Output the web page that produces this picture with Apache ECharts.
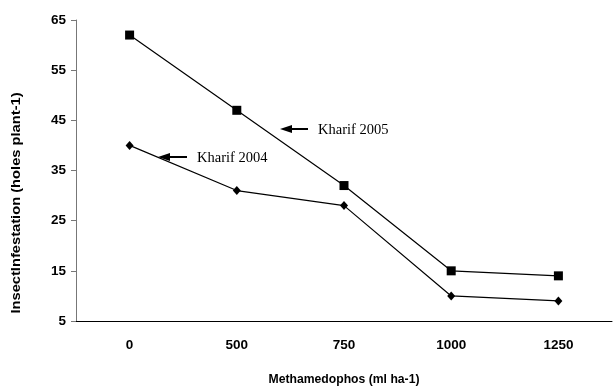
<!DOCTYPE html>
<html>
<head>
<meta charset="utf-8">
<script src="https://cdn.jsdelivr.net/npm/echarts@6/dist/echarts.min.js"></script>
<style>
  html, body { margin: 0; padding: 0; background: #fff; }
  #main { width: 613px; height: 391px; }
</style>
</head>
<body>
<div id="main"></div>
<script>
// doses on the x axis
var doses = ['0', '500', '750', '1000', '1250'];
// insect infestation, holes per plant
var kharif2005 = [62, 47, 32, 15, 14];
var kharif2004 = [40, 31, 28, 10, 9];
var yTicks = [5, 65, 10]; // min, max, step

var chart = echarts.init(document.getElementById('main'));

var boldFont = {
    fontFamily: 'Liberation Sans, Arial, sans-serif',
    fontWeight: 'bold',
    color: '#000'
};
var serifFont = '14.5px "Liberation Serif", "Times New Roman", serif';

var option = {
    animation: false,
    grid: { left: 76, right: 1, top: 20, bottom: 67 },
    xAxis: {
        type: 'category',
        data: doses,
        boundaryGap: true,
        axisLine: { lineStyle: { color: '#000', width: 1 } },
        axisTick: { inside: true, length: 5, lineStyle: { color: '#000' } },
        axisLabel: Object.assign({ fontSize: 13.5, margin: 17 }, boldFont),
        name: 'Methamedophos (ml ha-1)',
        nameLocation: 'middle',
        nameGap: 53,
        nameTextStyle: Object.assign({ fontSize: 12.2 }, boldFont)
    },
    yAxis: {
        type: 'value',
        min: yTicks[0],
        max: yTicks[1],
        interval: yTicks[2],
        splitLine: { show: false },
        axisLine: { show: true, lineStyle: { color: '#777', width: 1 } },
        axisTick: { show: true, length: 5, lineStyle: { color: '#777' } },
        axisLabel: Object.assign({ fontSize: 13.5, margin: 10 }, boldFont)
    },
    series: [
        {
            name: 'Kharif 2005',
            type: 'line',
            data: kharif2005,
            symbol: 'rect',
            symbolSize: 9,
            itemStyle: { color: '#000' },
            lineStyle: { color: '#000', width: 1.2 }
        },
        {
            name: 'Kharif 2004',
            type: 'line',
            data: kharif2004,
            symbol: 'diamond',
            symbolSize: [8, 9],
            itemStyle: { color: '#000' },
            lineStyle: { color: '#000', width: 1.2 }
        }
    ],
    graphic: [
        // y axis title, a little stretched along its length as in the original
        {
            type: 'text', x: 16, y: 203, rotation: Math.PI / 2, scaleX: 1.13,
            style: {
                text: 'InsectInfestation (holes plant-1)',
                font: 'bold 13px "Liberation Sans", Arial, sans-serif',
                fill: '#000', align: 'center', verticalAlign: 'middle'
            }
        },
        // labels with arrows
        { type: 'line', shape: { x1: 308, y1: 129, x2: 288, y2: 129 }, style: { stroke: '#000', lineWidth: 2 } },
        { type: 'polygon', shape: { points: [[280, 129], [292, 125], [292, 133]] }, style: { fill: '#000' } },
        { type: 'text', x: 318, y: 130, style: { text: 'Kharif 2005', font: serifFont, fill: '#000', verticalAlign: 'middle' } },
        { type: 'line', shape: { x1: 187, y1: 157, x2: 166, y2: 157 }, style: { stroke: '#000', lineWidth: 2 } },
        { type: 'polygon', shape: { points: [[158, 157], [170, 153], [170, 161]] }, style: { fill: '#000' } },
        { type: 'text', x: 197, y: 158, style: { text: 'Kharif 2004', font: serifFont, fill: '#000', verticalAlign: 'middle' } }
    ]
};

chart.setOption(option);
</script>
</body>
</html>
